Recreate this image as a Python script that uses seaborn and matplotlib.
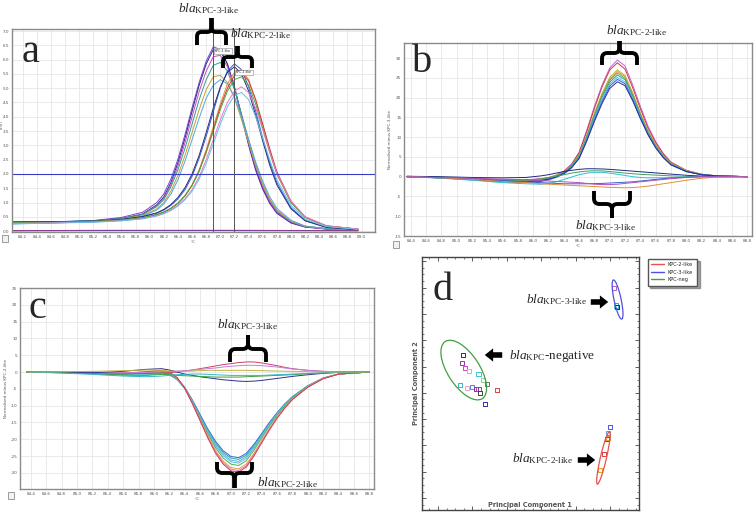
import numpy as np
import pandas as pd
import matplotlib
matplotlib.use('Agg')
import matplotlib.pyplot as plt
import seaborn as sns
from matplotlib.lines import Line2D
from matplotlib.patches import Ellipse, PathPatch, Rectangle, FancyArrowPatch
from matplotlib.path import Path
from matplotlib.ticker import AutoMinorLocator

W, H = 754, 515

# ---------------- panel a : -dF/dT melt peaks ----------------
temps_a = [84.05, 84.6, 85.2, 85.6, 85.9, 86.1, 86.2, 86.3, 86.4, 86.5, 86.6, 86.7, 86.8, 86.9,
           87.0, 87.1, 87.2, 87.3, 87.4, 87.5, 87.6, 87.7, 87.8, 88.0, 88.2, 88.5, 88.95]
a_kpc3 = {
    'a3_1': [0.28, 0.31, 0.37, 0.48, 0.66, 1.0, 1.3, 1.82, 2.52, 3.38, 4.32, 5.2, 5.95, 6.45, 6.35, 5.85, 5.0, 4.0, 3.0, 2.12, 1.46, 0.96, 0.62, 0.28, 0.14, 0.07, 0.04],
    'a3_2': [0.32, 0.33, 0.36, 0.44, 0.6, 0.92, 1.2, 1.7, 2.4, 3.25, 4.2, 5.1, 5.85, 6.35, 6.3, 5.85, 5.05, 4.05, 3.05, 2.18, 1.5, 1.0, 0.65, 0.3, 0.15, 0.08, 0.05],
    'a3_3': [0.27, 0.3, 0.35, 0.43, 0.58, 0.88, 1.15, 1.62, 2.28, 3.1, 4.0, 4.88, 5.6, 6.1, 6.15, 5.75, 5.0, 4.05, 3.1, 2.25, 1.56, 1.04, 0.68, 0.32, 0.16, 0.08, 0.05],
    'a3_4': [0.3, 0.32, 0.36, 0.44, 0.58, 0.86, 1.1, 1.55, 2.15, 2.9, 3.75, 4.6, 5.3, 5.8, 5.9, 5.6, 4.95, 4.1, 3.2, 2.35, 1.65, 1.1, 0.72, 0.34, 0.17, 0.09, 0.05],
    'a3_5': [0.26, 0.29, 0.34, 0.41, 0.54, 0.78, 1.0, 1.4, 1.95, 2.65, 3.45, 4.25, 4.95, 5.4, 5.45, 5.2, 4.65, 3.9, 3.1, 2.3, 1.65, 1.12, 0.74, 0.35, 0.17, 0.09, 0.05],
    'a3_6': [0.25, 0.28, 0.33, 0.4, 0.52, 0.74, 0.95, 1.3, 1.8, 2.45, 3.2, 3.95, 4.65, 5.1, 5.3, 5.15, 4.7, 4.0, 3.2, 2.42, 1.75, 1.2, 0.8, 0.38, 0.18, 0.09, 0.05],
}
a_kpc2 = {
    'a2_1': [0.3, 0.31, 0.34, 0.4, 0.5, 0.63, 0.74, 0.9, 1.13, 1.45, 1.92, 2.55, 3.32, 4.18, 5.0, 5.6, 5.85, 5.65, 5.05, 4.2, 3.25, 2.4, 1.7, 0.82, 0.38, 0.14, 0.06],
    'a2_2': [0.32, 0.33, 0.35, 0.41, 0.51, 0.64, 0.76, 0.93, 1.18, 1.52, 2.0, 2.65, 3.45, 4.3, 5.05, 5.55, 5.75, 5.5, 4.9, 4.05, 3.15, 2.3, 1.62, 0.78, 0.36, 0.13, 0.05],
    'a2_3': [0.28, 0.3, 0.33, 0.38, 0.47, 0.58, 0.67, 0.8, 0.98, 1.25, 1.62, 2.15, 2.85, 3.65, 4.45, 5.15, 5.55, 5.65, 5.3, 4.6, 3.7, 2.8, 2.0, 1.0, 0.48, 0.18, 0.07],
    'a2_4': [0.29, 0.3, 0.33, 0.38, 0.46, 0.57, 0.66, 0.79, 0.97, 1.23, 1.6, 2.1, 2.78, 3.55, 4.35, 5.0, 5.45, 5.55, 5.25, 4.6, 3.75, 2.88, 2.08, 1.05, 0.5, 0.19, 0.07],
    'a2_5': [0.3, 0.31, 0.34, 0.39, 0.47, 0.58, 0.67, 0.8, 0.98, 1.24, 1.6, 2.1, 2.75, 3.5, 4.25, 4.9, 5.3, 5.4, 5.1, 4.45, 3.6, 2.75, 2.0, 1.0, 0.48, 0.18, 0.07],
    'a2_6': [0.27, 0.29, 0.32, 0.37, 0.44, 0.54, 0.62, 0.74, 0.9, 1.13, 1.45, 1.9, 2.5, 3.2, 3.9, 4.5, 4.9, 5.05, 4.85, 4.3, 3.55, 2.75, 2.02, 1.05, 0.5, 0.19, 0.07],
    'a2_7': [0.26, 0.28, 0.31, 0.36, 0.43, 0.53, 0.61, 0.72, 0.88, 1.1, 1.4, 1.82, 2.38, 3.05, 3.75, 4.35, 4.75, 4.85, 4.6, 4.0, 3.25, 2.48, 1.8, 0.9, 0.42, 0.16, 0.06],
}
temps_a_neg = [84.05, 85.5, 87.0, 88.95]
a_neg = {
    'a0_1': [0.02, 0.03, 0.03, 0.02],
    'a0_2': [0.01, 0.02, 0.02, 0.01],
}
a_colors = ['#8a3fd0', '#20308a', '#d048c8', '#30a090', '#c8a030', '#50a8e0',
            '#3858e8', '#28306e', '#e89030', '#d03a3a', '#48a848', '#e878c0', '#60c0e8',
            '#c04050', '#7040a0']
a_markers_t = [86.9, 87.2]          # software melt-peak markers
a_threshold = 2.0

# ---------------- panel b : normalised minus KPC-3-like ----------------
temps_bc = [84.35, 84.8, 85.2, 85.6, 85.9, 86.1, 86.2, 86.3, 86.4, 86.5, 86.6, 86.7, 86.8, 86.9,
            87.0, 87.1, 87.2, 87.3, 87.4, 87.5, 87.6, 87.7, 87.8, 88.0, 88.2, 88.4, 88.8]
b_kpc2 = {
    'b2_1': [0.0, -0.2, -0.5, -0.8, -0.8, -0.5, -0.2, 0.4, 1.4, 3.2, 6.2, 11.8, 17.8, 23.2, 27.5, 29.5, 28.0, 23.2, 17.8, 12.8, 8.9, 5.9, 3.7, 1.6, 0.6, 0.2, 0.0],
    'b2_2': [0.0, -0.2, -0.5, -0.9, -0.9, -0.6, -0.3, 0.3, 1.3, 3.0, 6.0, 11.4, 17.3, 22.7, 27.0, 28.8, 27.2, 22.5, 17.2, 12.3, 8.6, 5.7, 3.6, 1.6, 0.6, 0.2, 0.0],
    'b2_3': [0.0, -0.2, -0.5, -0.9, -0.9, -0.6, -0.3, 0.3, 1.2, 2.8, 5.5, 10.6, 16.1, 21.1, 25.1, 27.0, 25.6, 21.2, 16.1, 11.6, 8.1, 5.4, 3.4, 1.5, 0.6, 0.2, 0.0],
    'b2_4': [0.0, -0.3, -0.6, -1.0, -1.0, -0.7, -0.4, 0.2, 1.1, 2.7, 5.4, 10.4, 15.8, 20.8, 24.7, 26.6, 25.3, 21.0, 16.0, 11.5, 8.0, 5.3, 3.3, 1.5, 0.6, 0.2, 0.0],
    'b2_5': [0.0, -0.2, -0.6, -1.0, -1.1, -0.8, -0.4, 0.2, 1.1, 2.7, 5.3, 10.2, 15.6, 20.5, 24.4, 26.2, 24.9, 20.6, 15.7, 11.2, 7.8, 5.2, 3.2, 1.4, 0.5, 0.2, 0.0],
    'b2_6': [0.0, -0.3, -0.7, -1.2, -1.3, -1.0, -0.6, 0.0, 0.9, 2.5, 5.1, 9.9, 15.2, 20.0, 23.9, 25.7, 24.5, 20.3, 15.5, 11.1, 7.7, 5.1, 3.2, 1.4, 0.5, 0.2, 0.0],
    'b2_7': [0.0, -0.3, -0.7, -1.2, -1.4, -1.1, -0.7, -0.1, 0.8, 2.4, 4.9, 9.6, 14.8, 19.5, 23.4, 25.1, 23.9, 19.8, 15.1, 10.8, 7.5, 5.0, 3.1, 1.3, 0.5, 0.2, 0.0],
    'b2_8': [0.0, -0.3, -0.8, -1.3, -1.5, -1.2, -0.8, -0.2, 0.7, 2.2, 4.7, 9.3, 14.4, 19.0, 22.9, 24.6, 23.5, 19.5, 14.9, 10.7, 7.4, 4.9, 3.0, 1.3, 0.5, 0.2, 0.0],
    'b2_9': [0.1, -0.2, -0.6, -1.1, -1.3, -1.0, -0.6, 0.0, 0.8, 2.3, 4.6, 9.0, 14.0, 18.5, 22.3, 24.0, 23.0, 19.2, 14.7, 10.6, 7.3, 4.8, 3.0, 1.3, 0.5, 0.2, 0.0],
}
b_other = {
    'b3_1': [0.1, 0.0, -0.2, -0.3, -0.2, 0.2, 0.5, 0.9, 1.3, 1.6, 1.85, 2.0, 2.0, 1.95, 1.85, 1.7, 1.55, 1.4, 1.25, 1.1, 0.95, 0.8, 0.65, 0.35, 0.15, 0.05, 0.0],
    'b3_2': [0.0, -0.3, -0.6, -0.9, -0.9, -0.6, -0.3, 0.1, 0.5, 0.9, 1.2, 1.4, 1.5, 1.45, 1.3, 1.1, 0.9, 0.75, 0.6, 0.5, 0.4, 0.3, 0.2, 0.1, 0.0, 0.0, 0.0],
    'b3_3': [0.0, -0.4, -0.9, -1.5, -1.8, -1.9, -1.7, -1.3, -0.7, -0.1, 0.5, 0.9, 1.1, 1.1, 0.9, 0.6, 0.3, 0.0, -0.2, -0.3, -0.3, -0.3, -0.2, -0.1, 0.0, 0.0, 0.0],
    'b3_4': [0.0, -0.3, -0.6, -1.0, -1.3, -1.5, -1.6, -1.7, -1.8, -1.8, -1.8, -1.8, -1.75, -1.7, -1.6, -1.5, -1.4, -1.3, -1.1, -0.9, -0.7, -0.5, -0.35, -0.15, 0.0, 0.0, 0.0],
    'b3_5': [0.0, -0.3, -0.7, -1.2, -1.5, -1.8, -1.9, -2.0, -2.1, -2.2, -2.3, -2.4, -2.5, -2.6, -2.7, -2.75, -2.8, -2.75, -2.6, -2.4, -2.1, -1.8, -1.5, -0.9, -0.4, -0.1, 0.0],
    'b3_6': [0.0, -0.2, -0.4, -0.6, -0.8, -1.0, -1.1, -1.2, -1.3, -1.4, -1.5, -1.7, -1.9, -2.0, -2.0, -1.9, -1.7, -1.5, -1.3, -1.1, -0.9, -0.7, -0.5, -0.2, 0.0, 0.0, 0.0],
}
b_colors = ['#c060e0', '#d03a3a', '#b8b040', '#e89a30', '#50b050', '#30a0a0', '#60b8e8', '#3a60e0', '#2a3090',
            '#202880', '#40a060', '#30c0d0', '#4060d0', '#e09030', '#b050c0']

# ---------------- panel c : normalised minus KPC-2-like ----------------
c_kpc2 = {
    'c2_1': [0.0, -0.1, -0.3, -0.6, -0.3, 0.0, -0.5, -1.9, -4.5, -8.3, -12.6, -16.9, -20.6, -23.4, -25.1, -25.5, -24.2, -21.5, -18.3, -15.0, -12.1, -9.5, -7.3, -4.1, -1.8, -0.6, 0.0],
    'c2_2': [0.0, -0.1, -0.4, -0.7, -0.5, -0.2, -0.7, -2.1, -4.7, -8.5, -12.9, -17.2, -21.0, -23.9, -25.6, -26.0, -24.7, -21.9, -18.6, -15.3, -12.3, -9.6, -7.4, -4.1, -1.8, -0.6, 0.0],
    'c2_3': [0.0, -0.2, -0.5, -0.9, -0.8, -0.5, -0.9, -2.3, -4.9, -8.8, -13.2, -17.6, -21.5, -24.4, -26.2, -26.6, -25.2, -22.3, -18.9, -15.5, -12.4, -9.7, -7.4, -4.1, -1.8, -0.6, 0.0],
    'c2_4': [0.0, -0.1, -0.3, -0.5, -0.2, 0.2, -0.3, -1.8, -4.6, -8.7, -13.3, -17.9, -21.9, -24.9, -26.7, -27.1, -25.7, -22.7, -19.2, -15.7, -12.6, -9.9, -7.6, -4.2, -1.8, -0.6, 0.0],
    'c2_5': [0.0, -0.2, -0.4, -0.6, -0.3, 0.1, -0.4, -1.9, -4.8, -9.0, -13.7, -18.4, -22.5, -25.6, -27.4, -27.8, -26.4, -23.3, -19.7, -16.1, -12.9, -10.1, -7.7, -4.3, -1.9, -0.6, 0.0],
    'c2_6': [0.0, -0.1, -0.3, -0.5, -0.1, 0.3, -0.2, -1.8, -4.8, -9.2, -14.1, -19.0, -23.3, -26.5, -28.4, -28.8, -27.4, -24.2, -20.5, -16.8, -13.4, -10.5, -8.0, -4.4, -1.9, -0.6, 0.0],
    'c2_7': [0.0, -0.1, -0.2, -0.4, 0.0, 0.4, -0.1, -1.7, -4.8, -9.3, -14.3, -19.3, -23.7, -27.0, -28.9, -29.3, -27.9, -24.6, -20.8, -17.0, -13.6, -10.6, -8.1, -4.5, -1.9, -0.6, 0.0],
    'c2_8': [0.0, -0.1, -0.2, -0.3, 0.1, 0.5, 0.0, -1.6, -4.8, -9.4, -14.5, -19.6, -24.1, -27.4, -29.4, -29.8, -28.3, -25.0, -21.1, -17.3, -13.8, -10.8, -8.2, -4.5, -2.0, -0.6, 0.0],
}
c_other = {
    'c3_1': [0.0, 0.0, -0.1, -0.3, -0.4, -0.3, -0.2, 0.0, 0.3, 0.6, 1.0, 1.4, 1.8, 2.2, 2.5, 2.8, 3.0, 3.0, 2.7, 2.3, 1.9, 1.4, 1.0, 0.5, 0.2, 0.1, 0.0],
    'c3_2': [0.0, 0.0, -0.1, -0.2, -0.1, 0.1, 0.2, 0.3, 0.4, 0.6, 0.8, 1.0, 1.2, 1.5, 1.7, 1.9, 2.0, 2.0, 1.9, 1.7, 1.5, 1.2, 0.9, 0.5, 0.2, 0.1, 0.0],
    'c3_3': [0.0, -0.1, -0.2, 0.2, 0.8, 1.0, 0.6, 0.0, -0.6, -1.0, -1.4, -1.7, -2.0, -2.3, -2.5, -2.7, -2.8, -2.7, -2.5, -2.2, -1.9, -1.6, -1.3, -0.8, -0.4, -0.1, 0.0],
    'c3_4': [0.0, -0.2, -0.5, -0.9, -1.0, -0.7, -0.8, -1.0, -1.1, -1.2, -1.3, -1.4, -1.5, -1.5, -1.5, -1.5, -1.4, -1.3, -1.2, -1.1, -1.0, -0.9, -0.8, -0.5, -0.3, -0.1, 0.0],
    'c3_5': [0.0, -0.3, -0.7, -1.2, -1.4, -1.2, -1.0, -0.8, -0.7, -0.6, -0.6, -0.7, -0.8, -0.9, -1.0, -1.0, -1.0, -1.0, -1.0, -0.9, -0.8, -0.7, -0.6, -0.4, -0.2, -0.1, 0.0],
    'c3_6': [0.0, 0.1, 0.2, 0.4, 0.6, 0.5, 0.3, 0.2, 0.2, 0.3, 0.4, 0.5, 0.5, 0.5, 0.5, 0.5, 0.5, 0.45, 0.4, 0.35, 0.3, 0.25, 0.2, 0.1, 0.05, 0.0, 0.0],
}
c_colors = ['#3a60e0', '#30a0a0', '#40c0d8', '#70b0e8', '#50b050', '#e8a040', '#e070c0', '#d04050',
            '#d04060', '#c080e0', '#303090', '#40a040', '#30b8c8', '#c0b040']

# ---------------- panel d : PCA ----------------
pc1_neg = [1.63, 1.57, 1.70, 1.87, 2.23, 2.40, 2.58, 1.50, 1.77, 1.96, 2.13, 2.23, 2.29, 2.98, 2.49]
pc2_neg = [6.12, 5.80, 5.61, 5.51, 5.38, 5.14, 4.98, 4.93, 4.81, 4.85, 4.79, 4.79, 4.61, 4.74, 4.19]
col_neg = ['#333333', '#9040a0', '#d040d0', '#e0a0d0', '#40c8d0', '#90d090', '#707070', '#30b8c8',
           '#f0a0c0', '#6080e0', '#8030a0', '#c030b0', '#404040', '#e04040', '#3030a0']
pc1_k3 = [7.59, 7.67, 7.70]
pc2_k3 = [8.76, 8.08, 8.02]
col_k3 = ['#b060c0', '#30b0c0', '#202080']
pc1_k2 = [7.43, 7.35, 7.30, 7.34, 7.19, 7.04]
pc2_k2 = [3.27, 3.03, 2.81, 2.83, 2.20, 1.58]
col_k2 = ['#5050e0', '#60a0e0', '#306040', '#e0a030', '#e04040', '#e0a020']

groups = ['KPC-2-like', 'KPC-3-like', 'KPC-neg']
group_colors = ['#e85050', '#5050e0', '#40a040']
ell_center = [(7.17, 2.06), (7.73, 8.32), (1.65, 5.53)]
ell_width = [2.13, 1.58, 2.69]
ell_height = [0.24, 0.28, 1.26]
ell_angle = [77, -78, -57]


def fx(x):
    return x / W


def fy(y):
    return 1 - y / H


def melt(pairs):
    rows = []
    for temps, curves in pairs:
        for name, vals in curves.items():
            assert len(vals) == len(temps), name
            for t, v in zip(temps, vals):
                rows.append((name, t, v))
    return pd.DataFrame(rows, columns=['curve', 'temp', 'value'])


def style_melt(ax, xlim, ylim, xticks, yticks, ylabel, yfmt='{:g}'):
    ax.set_xlim(xlim)
    ax.set_ylim(ylim)
    ax.set_xticks(xticks)
    ax.set_xticklabels([f'{t:.1f}' for t in xticks])
    ax.set_yticks(yticks)
    ax.set_yticklabels([yfmt.format(v) for v in yticks])
    ax.tick_params(labelsize=3, colors='#555555', length=0, pad=2)
    ax.grid(color='#e6e6e6', lw=0.6)
    for s in ax.spines.values():
        s.set_color('#8a8a8a')
        s.set_linewidth(1)
    ax.set_xlabel('°C', fontsize=3, labelpad=1, color='#555555')
    ax.set_ylabel(ylabel, fontsize=3, labelpad=2, color='#555555')


def brace(xl, xr, y_tip, y_bar, y_arm):
    xc = (xl + xr) / 2
    s = 1 if y_arm > y_bar else -1
    r = min(abs(y_arm - y_bar), abs(y_bar - y_tip), (xr - xl) / 4) * 0.6
    verts, codes = [], []
    for xe, d in ((xl, 1), (xr, -1)):
        pts = [(xe, y_arm), (xe, y_bar + s * r), (xe, y_bar), (xe + d * r, y_bar),
               (xc - d * r, y_bar), (xc, y_bar), (xc, y_bar - s * r), (xc, y_tip)]
        verts += pts
        codes += [Path.MOVETO, Path.LINETO, Path.CURVE3, Path.CURVE3,
                  Path.LINETO, Path.CURVE3, Path.CURVE3, Path.LINETO]
    verts = [(fx(x), fy(y)) for x, y in verts]
    fig.add_artist(PathPatch(Path(verts, codes), fill=False, lw=2.8, ec='black',
                             capstyle='butt', joinstyle='round', transform=fig.transFigure))


def bla(x, y, sub, tail='', size=9.5):
    fig.text(fx(x), fy(y), r'$\mathit{bla}_{\text{' + sub + r'}}' + (r'\text{' + tail + '}' if tail else '') + '$',
             fontsize=size, ha='center', va='center')


def panel_letter(x, y, s):
    fig.text(fx(x), fy(y), s, fontsize=29, family='Liberation Serif', ha='center', va='center')


def arrow(x0, y0, x1, y1):
    fig.add_artist(FancyArrowPatch((fx(x0), fy(y0)), (fx(x1), fy(y1)), transform=fig.transFigure,
                                   arrowstyle='simple,head_width=0.95,head_length=0.6,tail_width=0.4',
                                   mutation_scale=10, color='black', lw=0))


def icon(x, y):
    fig.add_artist(Rectangle((fx(x), fy(y + 7)), 6 / W, 7 / H, transform=fig.transFigure,
                             fc='#f2f2f2', ec='#777777', lw=0.5))


sns.set_theme(style='whitegrid')
plt.rcParams['font.family'] = ['DejaVu Sans']
plt.rcParams['mathtext.fontset'] = 'custom'
plt.rcParams['mathtext.rm'] = 'Liberation Serif'
plt.rcParams['mathtext.it'] = 'Liberation Serif:italic'

fig = plt.figure(figsize=(W / 100, H / 100), dpi=100)
fig.patch.set_facecolor('white')

# ---- a
axA = fig.add_axes([fx(12), fy(232), (375 - 12) / W, (232 - 29) / H])
dfa = melt([(temps_a, a_kpc3), (temps_a, a_kpc2), (temps_a_neg, a_neg)])
names_a = list(a_kpc3) + list(a_kpc2) + list(a_neg)
sns.lineplot(data=dfa, x='temp', y='value', hue='curve', hue_order=names_a,
             palette=dict(zip(names_a, a_colors)), estimator=None, legend=False, lw=0.7, ax=axA)
axA.axhline(a_threshold, color='#3a3ac8', lw=0.8)
for t in a_markers_t:
    axA.axvline(t, color='#555555', lw=0.7)
axA.text(a_markers_t[0] + 0.02, 6.3, 'KPC-3-like', fontsize=2.3, va='center',
         bbox=dict(fc='white', ec='#888888', lw=0.4, pad=0.6))
axA.text(a_markers_t[1] + 0.02, 5.55, 'KPC-2-like', fontsize=2.3, va='center',
         bbox=dict(fc='white', ec='#888888', lw=0.4, pad=0.6))
style_melt(axA, (84.05, 89.19), (-0.03, 7.07), np.round(np.arange(84.2, 89.01, 0.2), 1),
           np.round(np.arange(0, 7.01, 0.5), 1), 'dF/dT', yfmt='{:.1f}')
axA.yaxis.label.set_fontsize(2.4)
axA.yaxis.set_label_coords(-0.022, 0.532)

# ---- b
axB = fig.add_axes([fx(404), fy(236), (752 - 404) / W, (236 - 43) / H])
dfb = melt([(temps_bc, b_kpc2), (temps_bc, b_other)])
names_b = list(b_kpc2) + list(b_other)
sns.lineplot(data=dfb, x='temp', y='value', hue='curve', hue_order=names_b,
             palette=dict(zip(names_b, b_colors)), estimator=None, legend=False, lw=0.7, ax=axB)
style_melt(axB, (84.31, 88.86), (-15, 33.8), np.round(np.arange(84.4, 88.81, 0.2), 1),
           np.arange(-15, 31, 5), 'Normalised minus KPC-3-like')

# ---- c
axC = fig.add_axes([fx(20), fy(489), (374 - 20) / W, (489 - 288) / H])
dfc = melt([(temps_bc, c_kpc2), (temps_bc, c_other)])
names_c = list(c_kpc2) + list(c_other)
sns.lineplot(data=dfc, x='temp', y='value', hue='curve', hue_order=names_c,
             palette=dict(zip(names_c, c_colors)), estimator=None, legend=False, lw=0.7, ax=axC)
style_melt(axC, (84.26, 88.86), (-34.8, 25), np.round(np.arange(84.4, 88.81, 0.2), 1),
           np.arange(-30, 26, 5), 'Normalised minus KPC-2-like')

# ---- d
axD = fig.add_axes([fx(422), fy(510), (639 - 422) / W, (510 - 257) / H])
dfd = pd.DataFrame({
    'pc1': pc1_neg + pc1_k3 + pc1_k2,
    'pc2': pc2_neg + pc2_k3 + pc2_k2,
    'sample': [f's{i}' for i in range(len(pc1_neg + pc1_k3 + pc1_k2))],
})
cols_d = col_neg + col_k3 + col_k2
sns.scatterplot(data=dfd, x='pc1', y='pc2', hue='sample', palette=dict(zip(dfd['sample'], cols_d)),
                marker='s', s=9, legend=False, ax=axD)
pts = axD.collections[0]
pts.set_edgecolors(pts.get_facecolors())
pts.set_facecolors('none')
pts.set_linewidth(0.7)
for c, w, h, ang, col in zip(ell_center, ell_width, ell_height, ell_angle, group_colors):
    axD.add_patch(Ellipse(c, w, h, angle=ang, fill=False, ec=col, lw=0.9))
axD.set_xlim(0, 217 / 25.3)
axD.set_ylim(0, 253 / 25.3)
axD.grid(False)
axD.set_facecolor('white')
axD.set_xticks(np.arange(0.63, 8.5, 1.36))
axD.set_yticks(np.arange(0.47, 10, 1.04))
axD.xaxis.set_minor_locator(AutoMinorLocator(4))
axD.yaxis.set_minor_locator(AutoMinorLocator(4))
axD.tick_params(which='both', direction='in', top=True, right=True, bottom=True, left=True,
                labelbottom=False, labelleft=False, color='#444444')
axD.tick_params(which='major', length=3, width=0.6)
axD.tick_params(which='minor', length=1.5, width=0.5)
axD.set_xlabel('')
axD.set_ylabel('')
for s in axD.spines.values():
    s.set_color('#444444')
    s.set_linewidth(1)
fig.text(fx(530), fy(505), 'Principal Component 1', fontsize=4.8, color='#555555',
         ha='center', va='center', fontweight='bold')
fig.text(fx(416), fy(383), 'Principal Component 2', fontsize=4.8, color='#555555',
         ha='center', va='center', rotation=90, fontweight='bold')
handles = [Line2D([], [], color=c, lw=1) for c in group_colors]
fig.legend(handles, groups, loc='upper left', bbox_to_anchor=(fx(645), fy(256)), fontsize=3.6,
           frameon=True, fancybox=False, shadow=True, handlelength=2.6, borderpad=0.7,
           labelspacing=0.5, edgecolor='#555555', framealpha=1)

# ---- annotations
panel_letter(31, 52, 'a')
panel_letter(422, 62, 'b')
panel_letter(37, 308, 'c')
panel_letter(443, 290, 'd')

brace(197, 226, 18, 32, 45)
brace(223, 252, 46, 57, 68)
brace(602, 637, 41, 53, 65)
brace(594, 630, 218, 204, 191)
brace(230, 266, 335, 349, 362)
brace(217, 252, 488, 473, 462)

bla(209, 9, 'KPC-3-like')
bla(261, 34, 'KPC-2-like')
bla(637, 31, 'KPC-2-like')
bla(606, 226, 'KPC-3-like')
bla(248, 325, 'KPC-3-like')
bla(288, 483, 'KPC-2-like')
bla(557, 300, 'KPC-3-like')
bla(552, 356, 'KPC', '-negative')
bla(543, 459, 'KPC-2-like')

arrow(588, 302, 611, 302)
arrow(505, 355, 482, 355)
arrow(575, 460, 598, 460)

icon(2, 235)
icon(393, 241)
icon(8, 492)

fig.savefig('out.png', dpi=100)
